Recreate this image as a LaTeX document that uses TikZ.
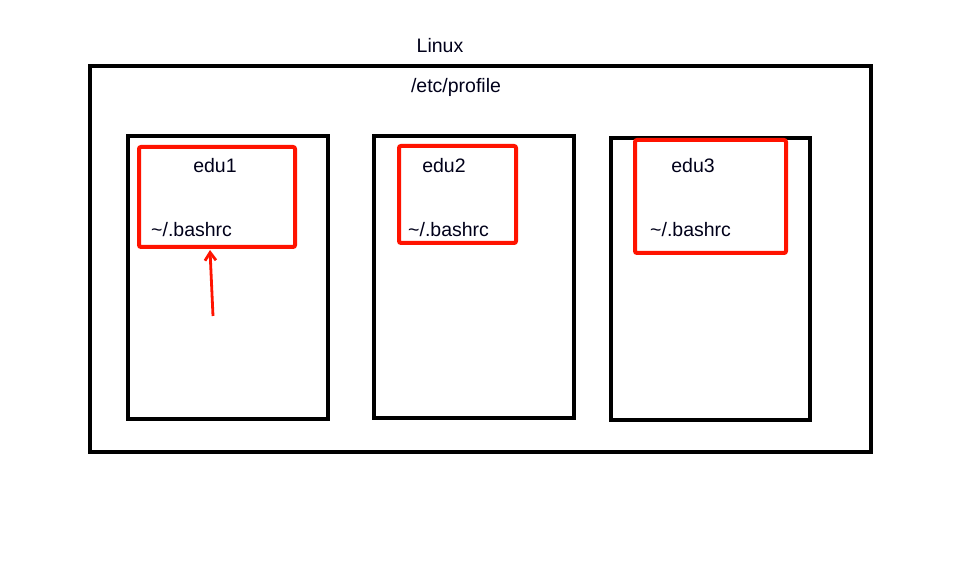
\documentclass[tikz,border=0pt]{standalone}
\usepackage{fontspec}
\setmainfont{Liberation Sans}
\usetikzlibrary{arrows.meta}

\tikzset{
  hostbox/.style={draw=black,line width=4pt,minimum width=#1},
  redbox/.style={draw=red!85!orange,line width=4pt,rounded corners=2pt,inner sep=0pt},
  label/.style={font=\fontsize{19.5}{21}\selectfont,text=black!90!blue,inner sep=0pt},
}

\begin{document}
\begin{tikzpicture}[x=1pt,y=-1pt]
\useasboundingbox (0,0) rectangle (970,577);
% outer machine
\node[draw=black,line width=4pt,minimum width=781pt,minimum height=386pt,inner sep=0pt] (linux) at (480.5,259) {};
\node[label] (linuxname) at (440,46) {Linux};
\node[label] (profile) at (456,87) {/etc/profile};
% user boxes
\node[draw=black,line width=4pt,minimum width=200pt,minimum height=283pt,inner sep=0pt] (user1) at (228,277.5) {};
\node[draw=black,line width=4pt,minimum width=200pt,minimum height=282pt,inner sep=0pt] (user2) at (474,277) {};
\node[draw=black,line width=4pt,minimum width=199pt,minimum height=282pt,inner sep=0pt] (user3) at (710.5,279) {};
% red marks
\node[redbox,minimum width=156pt,minimum height=100pt] (red1) at (217,197) {};
\node[redbox,minimum width=117pt,minimum height=97pt] (red2) at (457.5,194.5) {};
\node[redbox,minimum width=151pt,minimum height=113pt] (red3) at (710.5,196.5) {};
% texts
\node[label] (edu1) at (215,166) {edu1};
\node[label] (edu2) at (444,166) {edu2};
\node[label] (edu3) at (693,166) {edu3};
\node[label,anchor=west] (rc1) at (151,230) {\textasciitilde/.bashrc};
\node[label,anchor=west] (rc2) at (408,230) {\textasciitilde/.bashrc};
\node[label,anchor=west] (rc3) at (650,230) {\textasciitilde/.bashrc};
% arrow
\coordinate (tail) at (213,316);
\coordinate (head) at (210,250);
\draw[red!85!orange,line width=2.8pt,-{Straight Barb[length=8pt,width=11pt]}] (tail) -- (head);
\end{tikzpicture}
\end{document}
